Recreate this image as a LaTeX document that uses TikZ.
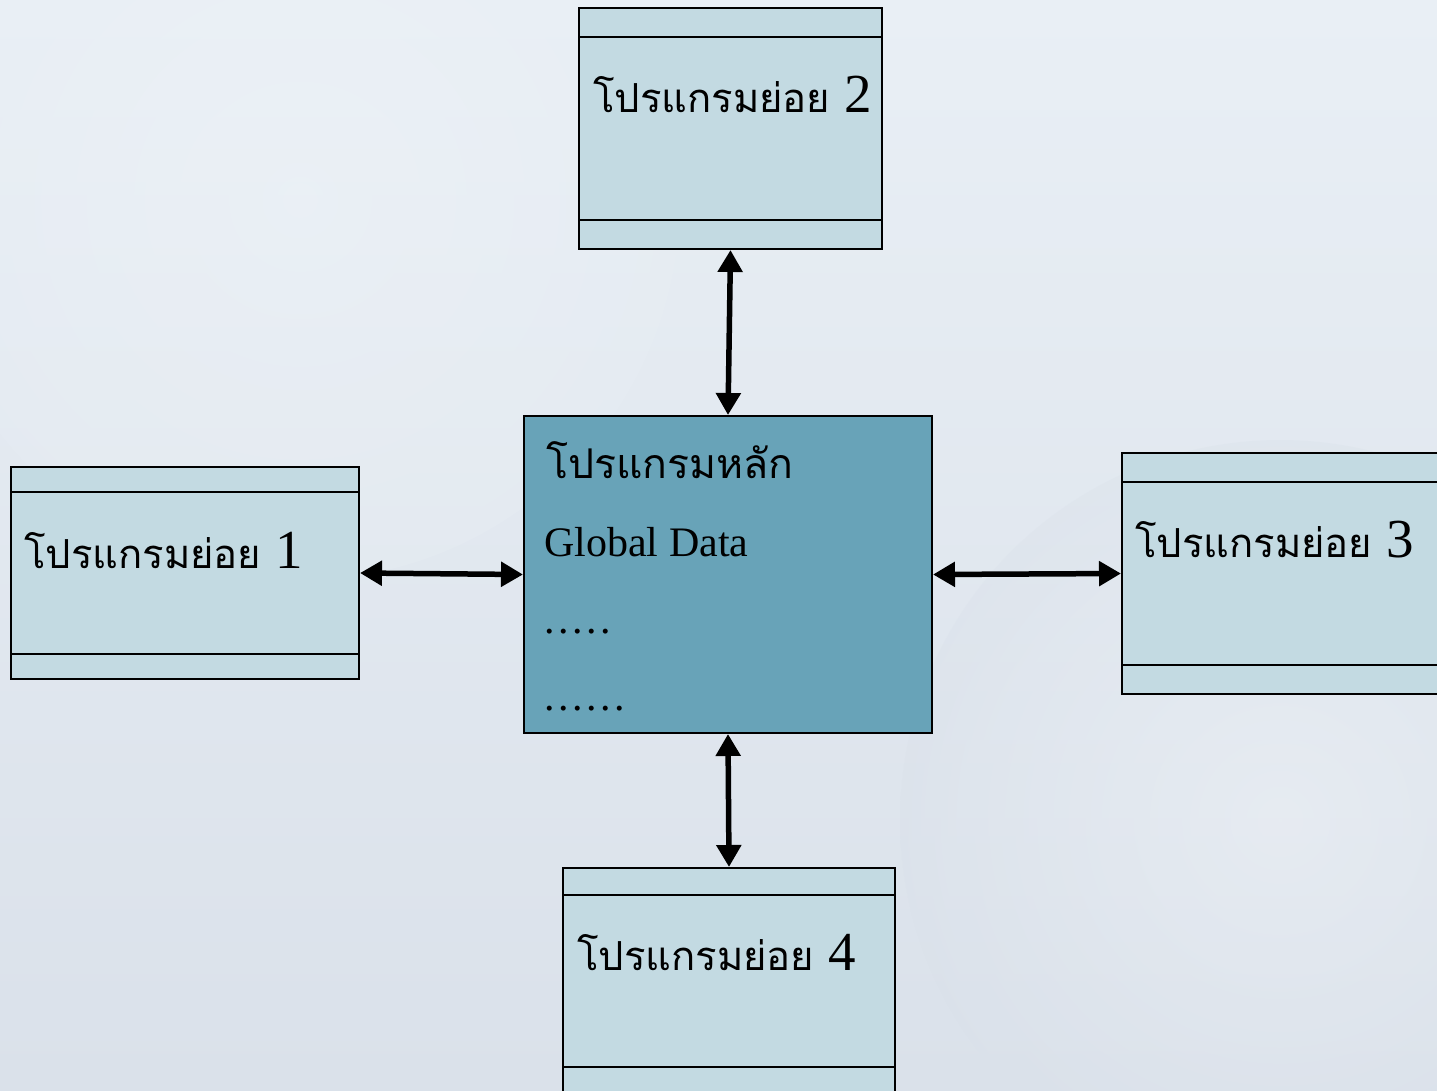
\documentclass[tikz,border=0pt]{standalone}
\usepackage{fontspec}
\setmainfont{Liberation Serif}
\newfontfamily\thai[Script=Thai]{Loma}
\usetikzlibrary{arrows.meta}
\definecolor{bgA}{HTML}{E9EFF5}
\definecolor{bgB}{HTML}{DAE1EA}
\definecolor{subfill}{HTML}{C3DAE2}
\definecolor{mainfill}{HTML}{68A3B8}
\newcommand{\thsub}{{\thai\fontsize{40}{48}\selectfont โปรแกรมย่อย}}
\newcommand{\dotrow}[1]{\foreach \i in {1,...,#1}{.\kern3.6pt}}
\tikzset{
  subbox/.style={draw=black, line width=2pt, fill=subfill, inner sep=0pt},
  mainbox/.style={draw=black, line width=2pt, fill=mainfill, inner sep=0pt},
  band/.style={draw=black, line width=2pt},
  lbl/.style={anchor=base west, inner sep=0pt, font=\fontsize{55}{60}\selectfont},
  mlbl/.style={anchor=base west, inner sep=0pt, font=\fontsize{42}{48}\selectfont},
  arr/.style={line width=5.5pt, {Triangle[length=22pt,width=24pt]}-{Triangle[length=22pt,width=24pt]}}
}
\begin{document}
\begin{tikzpicture}[x=1pt,y=-1pt]
\useasboundingbox (0,0) rectangle (1437,1090);
\begin{scope}
\clip (0,0) rectangle (1437,1090);
\shade[top color=bgA, bottom color=bgB] (0,0) rectangle (1437,1090);
\shade[inner color=white!60!bgA, outer color=bgB, opacity=0.35] (1280,820) circle (380);
\shade[inner color=white!50!bgA, outer color=bgA, opacity=0.3] (300,200) circle (380);

% boxes
\node[subbox, minimum width=303pt, minimum height=241pt] (b2) at (730.5,128.5) {};
\node[mainbox, minimum width=408pt, minimum height=317pt] (main) at (728,574.5) {};
\node[subbox, minimum width=348pt, minimum height=212pt] (b1) at (185,573) {};
\node[subbox, minimum width=330pt, minimum height=241pt] (b3) at (1287,573.5) {};
\node[subbox, minimum width=332pt, minimum height=226pt] (b4) at (729,981) {};

% bands
\draw[band] ([yshift=-30pt]b2.north west) -- ([yshift=-30pt]b2.north east);
\draw[band] ([yshift=30pt]b2.south west) -- ([yshift=30pt]b2.south east);
\draw[band] ([yshift=-26pt]b1.north west) -- ([yshift=-26pt]b1.north east);
\draw[band] ([yshift=26pt]b1.south west) -- ([yshift=26pt]b1.south east);
\draw[band] ([yshift=-30pt]b3.north west) -- ([yshift=-30pt]b3.north east);
\draw[band] ([yshift=30pt]b3.south west) -- ([yshift=30pt]b3.south east);
\draw[band] ([yshift=-28pt]b4.north west) -- ([yshift=-28pt]b4.north east);
\draw[band] ([yshift=28pt]b4.south west) -- ([yshift=28pt]b4.south east);

% labels
\node[lbl] (t2) at (593,112) {\thsub\ 2};
\node[lbl] (t1) at (24,568) {\thsub\ 1};
\node[lbl] (t3) at (1135,557) {\thsub\ 3};
\node[lbl] (t4) at (577,970) {\thsub\ 4};
\node[lbl] (tm) at (546,478) {\thai\fontsize{41}{48}\selectfont โปรแกรมหลัก};
\node[mlbl] (gd) at (544,556) {Global Data};
\node[mlbl] (d1) at (544,633) {\dotrow{5}};
\node[mlbl] (d2) at (544,710) {\dotrow{6}};

% connectors
\draw[arr] (b2.south) -- (main.north);
\draw[arr] (main.south) -- (b4.north);
\draw[arr] (b1.east) -- (main.west);
\draw[arr] (main.east) -- (b3.west);
\end{scope}
\end{tikzpicture}
\end{document}
